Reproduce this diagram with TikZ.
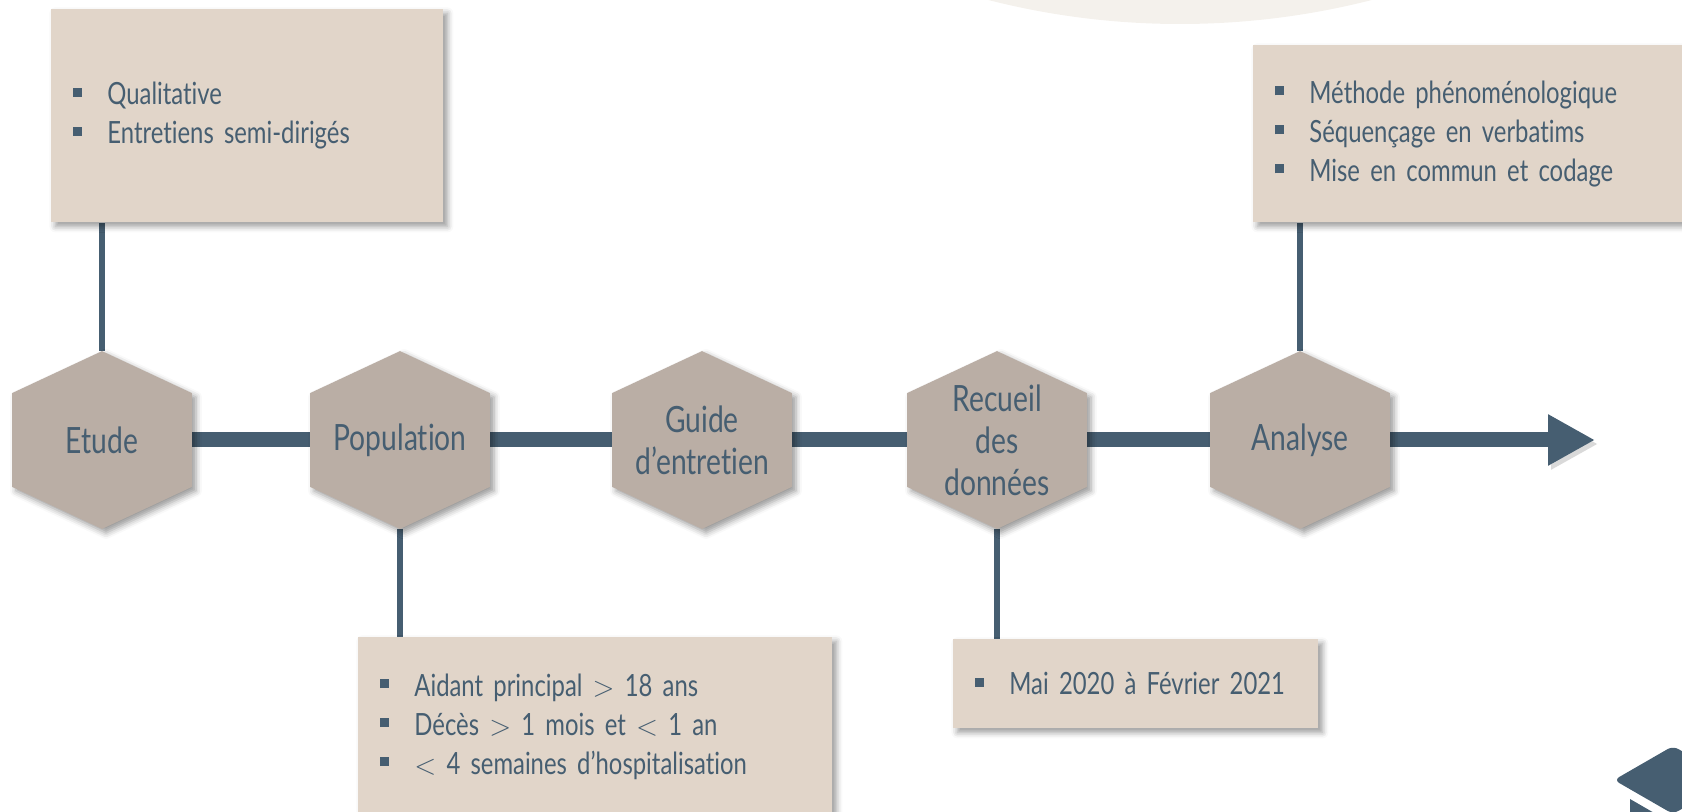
\documentclass[tikz,border=0pt]{standalone}
\usepackage{fontspec}
\setmainfont{Lato}[FakeStretch=0.78, WordSpace=0.8, Ligatures=NoCommon]
\usetikzlibrary{arrows.meta,backgrounds,shadows.blur}

\definecolor{ardoise}{RGB}{70,94,113}
\definecolor{sable}{RGB}{225,213,201}
\definecolor{taupe}{RGB}{186,174,165}
\definecolor{brume}{RGB}{244,241,236}

\newcommand{\puce}{\rule[4pt]{4.5pt}{4.5pt}\hspace{12.5pt}}

\begin{document}
\begin{tikzpicture}[x=0.5pt,y=-0.5pt] % 1 unit = 1 px of the slide
\tikzstyle{hexa} = [fill=taupe, blur shadow={shadow xshift=2pt, shadow yshift=-2pt, shadow blur radius=3pt, shadow opacity=40}] % hexagon fill
\tikzstyle{hexlabel} = [minimum width=89.5pt, minimum height=88.5pt, inner sep=0pt, align=center, text=ardoise, font=\fontsize{18.1}{21}\selectfont] % step label
\tikzstyle{infobox} = [anchor=north west, fill=sable, inner xsep=11pt, inner ysep=0pt, align=left, text=ardoise, font=\fontsize{15.3}{19.5}\selectfont, blur shadow={shadow xshift=2pt, shadow yshift=-2pt, shadow blur radius=3pt, shadow opacity=40}] % bullet box
\tikzstyle{timeline} = [draw=ardoise, line width=7.5pt, -{Triangle[length=23.5pt,width=24pt]}, preaction={draw=black, draw opacity=0.15, transform canvas={xshift=1.5pt, yshift=-2pt}}] % main arrow
\tikzstyle{branch} = [draw=ardoise, line width=3.25pt] % box connector

\useasboundingbox (0,0) rectangle (1682,812);
%
\node[hexlabel] (etude) at (102,440) {Etude};
\node[hexlabel] (popu) at (400,440) {Population};
\node[hexlabel] (guide) at (702,440) {Guide\\d’entretien};
\node[hexlabel] (recueil) at (997,440) {Recueil\\des\\données};
\node[hexlabel] (analyse) at (1300,440) {Analyse};
\coordinate (fin) at (1595,440);
%
\node[infobox, minimum width=196pt, minimum height=106.5pt, text width=174pt] (etudebox) at (51,9)
  {\puce Qualitative\\\puce Entretiens semi-dirigés};
\node[infobox, minimum width=233.5pt, minimum height=88.5pt, text width=211.5pt] (analysebox) at (1253,45)
  {\puce Méthode phénoménologique\\\puce Séquençage en verbatims\\\puce Mise en commun et codage};
\node[infobox, minimum width=237pt, minimum height=89pt, text width=215pt] (popubox) at (358,637)
  {\puce Aidant principal $>$ 18 ans\\\puce Décès $>$ 1 mois et $<$ 1 an\\\puce $<$ 4 semaines d’hospitalisation};
\node[infobox, minimum width=182.5pt, minimum height=44.5pt, text width=160.5pt] (recueilbox) at (953,639)
  {\puce Mai 2020 à Février 2021};
%
\begin{scope}[on background layer]
\clip (0,0) rectangle (1682,812);
\fill[brume] (1180,-748) circle (772);
\draw[timeline] (etude.center) -- (fin);
\draw[branch] (etude.north) -- (etude.north |- etudebox.south);
\draw[branch] (analyse.north) -- (analyse.north |- analysebox.south);
\draw[branch] (popu.south) -- (popu.south |- popubox.north);
\draw[branch] (recueil.south) -- (recueil.south |- recueilbox.north);
\foreach \n in {etude,popu,guide,recueil,analyse}
  \fill[hexa] (\n.north) -- ([yshift=-21pt]\n.north east) -- ([yshift=21pt]\n.south east) -- (\n.south)
    -- ([yshift=21pt]\n.south west) -- ([yshift=-21pt]\n.north west) -- cycle;
\end{scope}
% corner icon
\fill[ardoise, rounded corners=3pt] (1614,780) -- (1673,746) -- (1732,780) -- (1673,814) -- cycle;
\fill[ardoise] (1630,799) -- (1720,851) -- (1720,900) -- (1630,900) -- cycle;
\end{tikzpicture}
\end{document}
